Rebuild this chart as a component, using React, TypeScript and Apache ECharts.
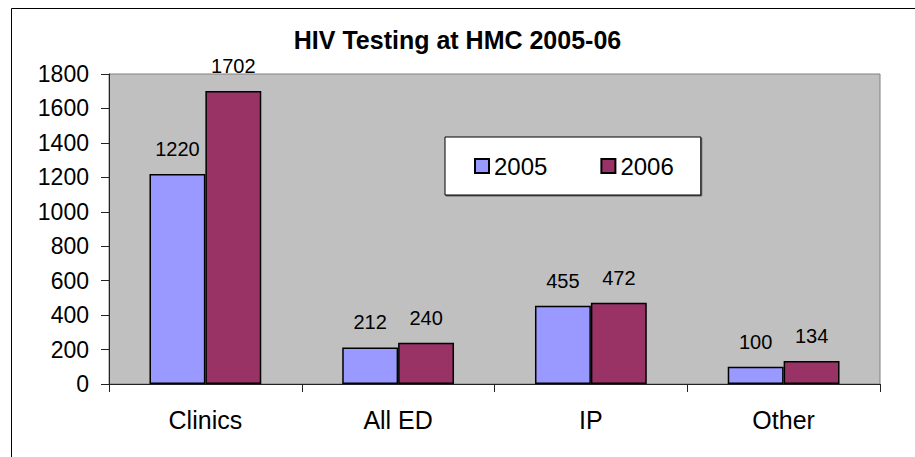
import React, { useEffect, useRef } from "react";
import * as echarts from "echarts";

const categories = ["Clinics", "All ED", "IP", "Other"];
const series2005 = [1220, 212, 455, 100];
const series2006 = [1702, 240, 472, 134];
const seriesNames = ["2005", "2006"];
const yTicks = { min: 0, max: 1800, interval: 200 };

const FONT = "'Liberation Sans', Arial, sans-serif";

export default function App() {
  const ref = useRef<HTMLDivElement>(null);
  useEffect(() => {
    if (!ref.current) return;
    const chart = echarts.init(ref.current, null, { renderer: "svg" });
    const label = {
      show: true,
      position: "top",
      distance: 15,
      color: "#000",
      fontSize: 20,
      fontFamily: FONT,
    };
    chart.setOption({
      animation: false,
      backgroundColor: "#fff",
      textStyle: { fontFamily: FONT },
      title: {
        text: "HIV Testing at HMC 2005-06",
        left: "center",
        top: 22,
        textStyle: { fontSize: 25, fontWeight: "bold", color: "#000", fontFamily: FONT },
      },
      graphic: [
        {
          type: "rect",
          shape: { x: 11.5, y: 8.5, width: 930, height: 470 },
          style: { fill: "none", stroke: "#000", lineWidth: 1 },
          silent: true,
        },
      ],
      legend: {
        data: seriesNames,
        left: 445,
        top: 137,
        orient: "horizontal",
        padding: [17, 27, 17, 29],
        itemGap: 53,
        itemWidth: 14,
        itemHeight: 14,
        icon: "rect",
        backgroundColor: "#fff",
        borderColor: "#000",
        borderWidth: 1,
        shadowColor: "rgba(0,0,0,0.5)",
        shadowOffsetX: 1,
        shadowOffsetY: 1,
        textStyle: { fontSize: 24, color: "#000", fontFamily: FONT },
      },
      grid: {
        left: 109,
        top: 74,
        right: 35,
        bottom: 73,
        show: true,
        backgroundColor: "#C0C0C0",
        borderColor: "#808080",
        borderWidth: 1,
      },
      xAxis: {
        type: "category",
        data: categories,
        axisLine: { show: true, lineStyle: { color: "#222", width: 1 } },
        axisTick: { show: true, length: 8, lineStyle: { color: "#222" } },
        axisLabel: { fontSize: 25, color: "#000", margin: 23, fontFamily: FONT },
        splitLine: { show: false },
      },
      yAxis: {
        type: "value",
        min: yTicks.min,
        max: yTicks.max,
        interval: yTicks.interval,
        axisLine: { show: true, lineStyle: { color: "#222", width: 1 } },
        axisTick: { show: true, length: 8, lineStyle: { color: "#222" } },
        axisLabel: {
          fontSize: 23,
          color: "#000",
          margin: 20,
          fontFamily: FONT,
          formatter: (v: number) => String(v),
        },
        splitLine: { show: false },
      },
      series: [
        {
          name: seriesNames[0],
          type: "bar",
          data: series2005,
          barGap: "0%",
          barCategoryGap: "42%",
          itemStyle: { color: "#9999FF", borderColor: "#000", borderWidth: 1.5 },
          label,
        },
        {
          name: seriesNames[1],
          type: "bar",
          data: series2006,
          barGap: "0%",
          barCategoryGap: "42%",
          itemStyle: { color: "#993366", borderColor: "#000", borderWidth: 1.5 },
          label,
        },
      ],
    });
    return () => chart.dispose();
  }, []);
  return (
    <div
      ref={ref}
      style={{ position: "fixed", left: 0, top: 0, width: 915, height: 457 }}
    />
  );
}
